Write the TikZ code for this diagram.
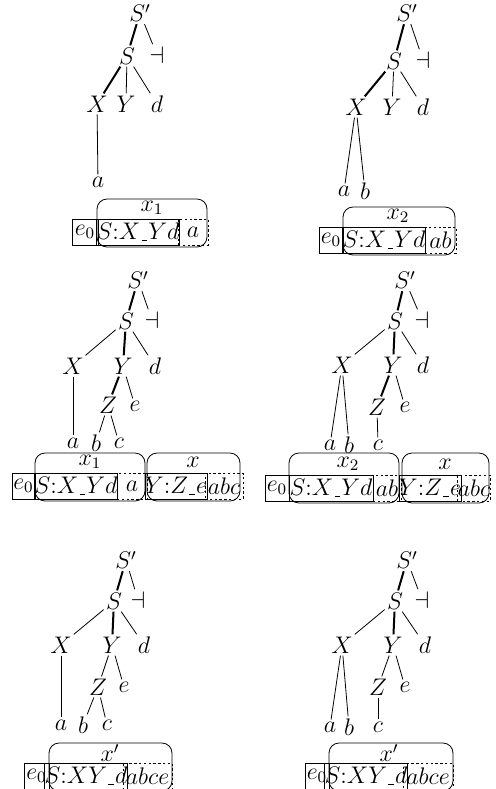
\documentclass[12pt,tikz,border=0pt]{standalone}

% the slot marker inside an item
\newcommand{\hole}{\kern0.6pt\rule[-0.9pt]{2.8pt}{0.6pt}\kern0.6pt}

\begin{document}
\begin{tikzpicture}[x=0.5pt, y=-0.5pt]
				\tikzstyle{sym} = [draw=none, inner sep=1pt]
				\tikzstyle{hl} = [line width=1pt]
				\tikzstyle{cell} = [draw, inner sep=0pt, minimum height=13pt]
				\tikzstyle{look} = [cell, dash pattern=on 1.2pt off 1.2pt]
				\tikzstyle{frame} = [draw, rounded corners=5pt, inner sep=0pt]
				\tikzstyle{tag} = [draw=none, inner sep=0pt]
				
				\useasboundingbox (0,0) rectangle (495,789);
				\clip (0,0) rectangle (495,789);
				
				% top left
				\begin{scope}[name prefix=p1-]
				\node[sym] 	at (140, 13) 	(Sp) 	{$S'$};
				\node[sym] 	at (127, 56) 	(S) 	{$S$};
				\node[sym] 	at (157, 55) 	(dv) 	{$\dashv$};
				\node[sym] 	at (97, 104) 	(X) 	{$X$};
				\node[sym] 	at (126, 104) 	(Y) 	{$Y$};
				\node[sym] 	at (157, 104) 	(d) 	{$d$};
				\node[sym] 	at (98, 182) 	(a) 	{$a$};
				
				\node[cell, minimum width=13pt] 	at (85, 232) 	(e0) 	{$e_0$};
				\node[cell, minimum width=40pt] 	at (138, 232) 	(core) 	{$S{:}X\hole Yd$};
				\node[look, minimum width=15pt] 	at (193, 232) 	(look) 	{$a$};
				\node[frame, minimum width=55pt, minimum height=24pt] 	at (152, 223) 	(fr) 	{};
				\node[tag] 	at (152, 208) 	(lab) 	{$x_1$};
				
				\path
				(Sp)	edge[hl]	(S)
				(Sp)	edge	(dv)
				(S)	edge[hl]	(X)
				(S)	edge	(Y)
				(S)	edge	(d)
				(X)	edge	(a);
				\end{scope}
				
				% top right
				\begin{scope}[name prefix=p2-]
				\node[sym] 	at (407, 13) 	(Sp) 	{$S'$};
				\node[sym] 	at (394, 61) 	(S) 	{$S$};
				\node[sym] 	at (423, 60) 	(dv) 	{$\dashv$};
				\node[sym] 	at (356, 107) 	(X) 	{$X$};
				\node[sym] 	at (392, 107) 	(Y) 	{$Y$};
				\node[sym] 	at (423, 107) 	(d) 	{$d$};
				\node[sym] 	at (344, 191) 	(a) 	{$a$};
				\node[sym] 	at (365, 191) 	(b) 	{$b$};
				
				\node[cell, minimum width=12pt] 	at (331, 240) 	(e0) 	{$e_0$};
				\node[cell, minimum width=41pt] 	at (384, 240) 	(core) 	{$S{:}X\hole Yd$};
				\node[look, minimum width=15.5pt] 	at (440.5, 240) 	(look) 	{$ab$};
				\node[frame, minimum width=56pt, minimum height=24pt] 	at (399, 231) 	(fr) 	{};
				\node[tag] 	at (398, 216) 	(lab) 	{$x_2$};
				
				\path
				(Sp)	edge[hl]	(S)
				(Sp)	edge	(dv)
				(S)	edge[hl]	(X)
				(S)	edge	(Y)
				(S)	edge	(d)
				(X)	edge	(a)
				(X)	edge	(b);
				\end{scope}
				
				% middle left
				\begin{scope}[name prefix=p3-]
				\node[sym] 	at (138, 280) 	(Sp) 	{$S'$};
				\node[sym] 	at (126, 321) 	(S) 	{$S$};
				\node[sym] 	at (152, 320) 	(dv) 	{$\dashv$};
				\node[sym] 	at (73, 366) 	(X) 	{$X$};
				\node[sym] 	at (123, 366) 	(Y) 	{$Y$};
				\node[sym] 	at (155, 366) 	(d) 	{$d$};
				\node[sym] 	at (108, 405) 	(Z) 	{$Z$};
				\node[sym] 	at (135, 406) 	(e) 	{$e$};
				\node[sym] 	at (73, 443) 	(a) 	{$a$};
				\node[sym] 	at (96, 443) 	(b) 	{$b$};
				\node[sym] 	at (119, 443) 	(c) 	{$c$};
				
				\node[cell, minimum width=11.5pt] 	at (23.5, 486) 	(e0) 	{$e_0$};
				\node[cell, minimum width=41pt] 	at (76, 486) 	(core) 	{$S{:}X\hole Yd$};
				\node[look, minimum width=15pt] 	at (132, 486) 	(look) 	{$a$};
				\node[cell, minimum width=29pt] 	at (176, 486) 	(core2) 	{$Y{:}Z\hole e$};
				\node[look, minimum width=19pt] 	at (224, 486) 	(look2) 	{$abc$};
				\node[frame, minimum width=55pt, minimum height=24pt] 	at (90, 477) 	(fr) 	{};
				\node[frame, minimum width=46.5pt, minimum height=24pt] 	at (193.5, 477) 	(fr2) 	{};
				\node[tag] 	at (90, 462) 	(lab) 	{$x_1$};
				\node[tag] 	at (193, 462) 	(lab2) 	{$x$};
				
				\path
				(Sp)	edge[hl]	(S)
				(Sp)	edge	(dv)
				(S)	edge	(X)
				(S)	edge[hl]	(Y)
				(S)	edge	(d)
				(Y)	edge[hl]	(Z)
				(Y)	edge	(e)
				(X)	edge	(a)
				(Z)	edge	(b)
				(Z)	edge	(c);
				\end{scope}
				
				% middle right
				\begin{scope}[name prefix=p4-]
				\node[sym] 	at (405, 280) 	(Sp) 	{$S'$};
				\node[sym] 	at (395, 321) 	(S) 	{$S$};
				\node[sym] 	at (422, 320) 	(dv) 	{$\dashv$};
				\node[sym] 	at (342, 365) 	(X) 	{$X$};
				\node[sym] 	at (393, 365) 	(Y) 	{$Y$};
				\node[sym] 	at (423, 365) 	(d) 	{$d$};
				\node[sym] 	at (377, 407) 	(Z) 	{$Z$};
				\node[sym] 	at (405, 407) 	(e) 	{$e$};
				\node[sym] 	at (330, 445) 	(a) 	{$a$};
				\node[sym] 	at (349, 445) 	(b) 	{$b$};
				\node[sym] 	at (378, 445) 	(c) 	{$c$};
				
				\node[cell, minimum width=12pt] 	at (277, 488) 	(e0) 	{$e_0$};
				\node[cell, minimum width=42pt] 	at (331, 488) 	(core) 	{$S{:}X\hole Yd$};
				\node[look, minimum width=14pt] 	at (387, 488) 	(look) 	{$ab$};
				\node[cell, minimum width=29pt] 	at (430, 488) 	(core2) 	{$Y{:}Z\hole e$};
				\node[look, minimum width=15pt] 	at (474, 488) 	(look2) 	{$abc$};
				\node[frame, minimum width=55pt, minimum height=25pt] 	at (344, 478) 	(fr) 	{};
				\node[frame, minimum width=43.5pt, minimum height=25pt] 	at (445.5, 478) 	(fr2) 	{};
				\node[tag] 	at (348, 464) 	(lab) 	{$x_2$};
				\node[tag] 	at (445, 464) 	(lab2) 	{$x$};
				
				\path
				(Sp)	edge[hl]	(S)
				(Sp)	edge	(dv)
				(S)	edge	(X)
				(S)	edge[hl]	(Y)
				(S)	edge	(d)
				(Y)	edge[hl]	(Z)
				(Y)	edge	(e)
				(X)	edge	(a)
				(X)	edge	(b)
				(Z)	edge	(c);
				\end{scope}
				
				% bottom left
				\begin{scope}[name prefix=p5-]
				\node[sym] 	at (126, 560) 	(Sp) 	{$S'$};
				\node[sym] 	at (114, 601) 	(S) 	{$S$};
				\node[sym] 	at (138, 600) 	(dv) 	{$\dashv$};
				\node[sym] 	at (61, 645) 	(X) 	{$X$};
				\node[sym] 	at (112, 645) 	(Y) 	{$Y$};
				\node[sym] 	at (144, 645) 	(d) 	{$d$};
				\node[sym] 	at (98, 687) 	(Z) 	{$Z$};
				\node[sym] 	at (124, 687) 	(e) 	{$e$};
				\node[sym] 	at (61, 725) 	(a) 	{$a$};
				\node[sym] 	at (83, 725) 	(b) 	{$b$};
				\node[sym] 	at (107, 725) 	(c) 	{$c$};
				
				\node[cell, minimum width=12.5pt] 	at (36.5, 776) 	(e0) 	{$e_0$};
				\node[cell, minimum width=37pt] 	at (86, 776) 	(core) 	{$S{:}XY\hole d$};
				\node[look, minimum width=24.5pt] 	at (147.5, 776) 	(look) 	{$abce$};
				\node[frame, minimum width=61.5pt, minimum height=24pt] 	at (110.5, 767) 	(fr) 	{};
				\node[tag] 	at (110, 753) 	(lab) 	{$x'$};
				
				\path
				(Sp)	edge[hl]	(S)
				(Sp)	edge	(dv)
				(S)	edge	(X)
				(S)	edge[hl]	(Y)
				(S)	edge	(d)
				(Y)	edge	(Z)
				(Y)	edge	(e)
				(X)	edge	(a)
				(Z)	edge	(b)
				(Z)	edge	(c);
				\end{scope}
				
				% bottom right
				\begin{scope}[name prefix=p6-]
				\node[sym] 	at (407, 560) 	(Sp) 	{$S'$};
				\node[sym] 	at (395, 601) 	(S) 	{$S$};
				\node[sym] 	at (422, 600) 	(dv) 	{$\dashv$};
				\node[sym] 	at (342, 645) 	(X) 	{$X$};
				\node[sym] 	at (393, 645) 	(Y) 	{$Y$};
				\node[sym] 	at (425, 645) 	(d) 	{$d$};
				\node[sym] 	at (378, 687) 	(Z) 	{$Z$};
				\node[sym] 	at (405, 687) 	(e) 	{$e$};
				\node[sym] 	at (330, 727) 	(a) 	{$a$};
				\node[sym] 	at (349, 727) 	(b) 	{$b$};
				\node[sym] 	at (378, 727) 	(c) 	{$c$};
				
				\node[cell, minimum width=12pt] 	at (317, 776) 	(e0) 	{$e_0$};
				\node[cell, minimum width=37pt] 	at (366, 776) 	(core) 	{$S{:}XY\hole d$};
				\node[look, minimum width=25pt] 	at (428, 776) 	(look) 	{$abce$};
				\node[frame, minimum width=62pt, minimum height=24pt] 	at (391, 767) 	(fr) 	{};
				\node[tag] 	at (389, 753) 	(lab) 	{$x'$};
				
				\path
				(Sp)	edge[hl]	(S)
				(Sp)	edge	(dv)
				(S)	edge	(X)
				(S)	edge[hl]	(Y)
				(S)	edge	(d)
				(Y)	edge	(Z)
				(Y)	edge	(e)
				(X)	edge	(a)
				(X)	edge	(b)
				(Z)	edge	(c);
				\end{scope}
\end{tikzpicture}
\end{document}
